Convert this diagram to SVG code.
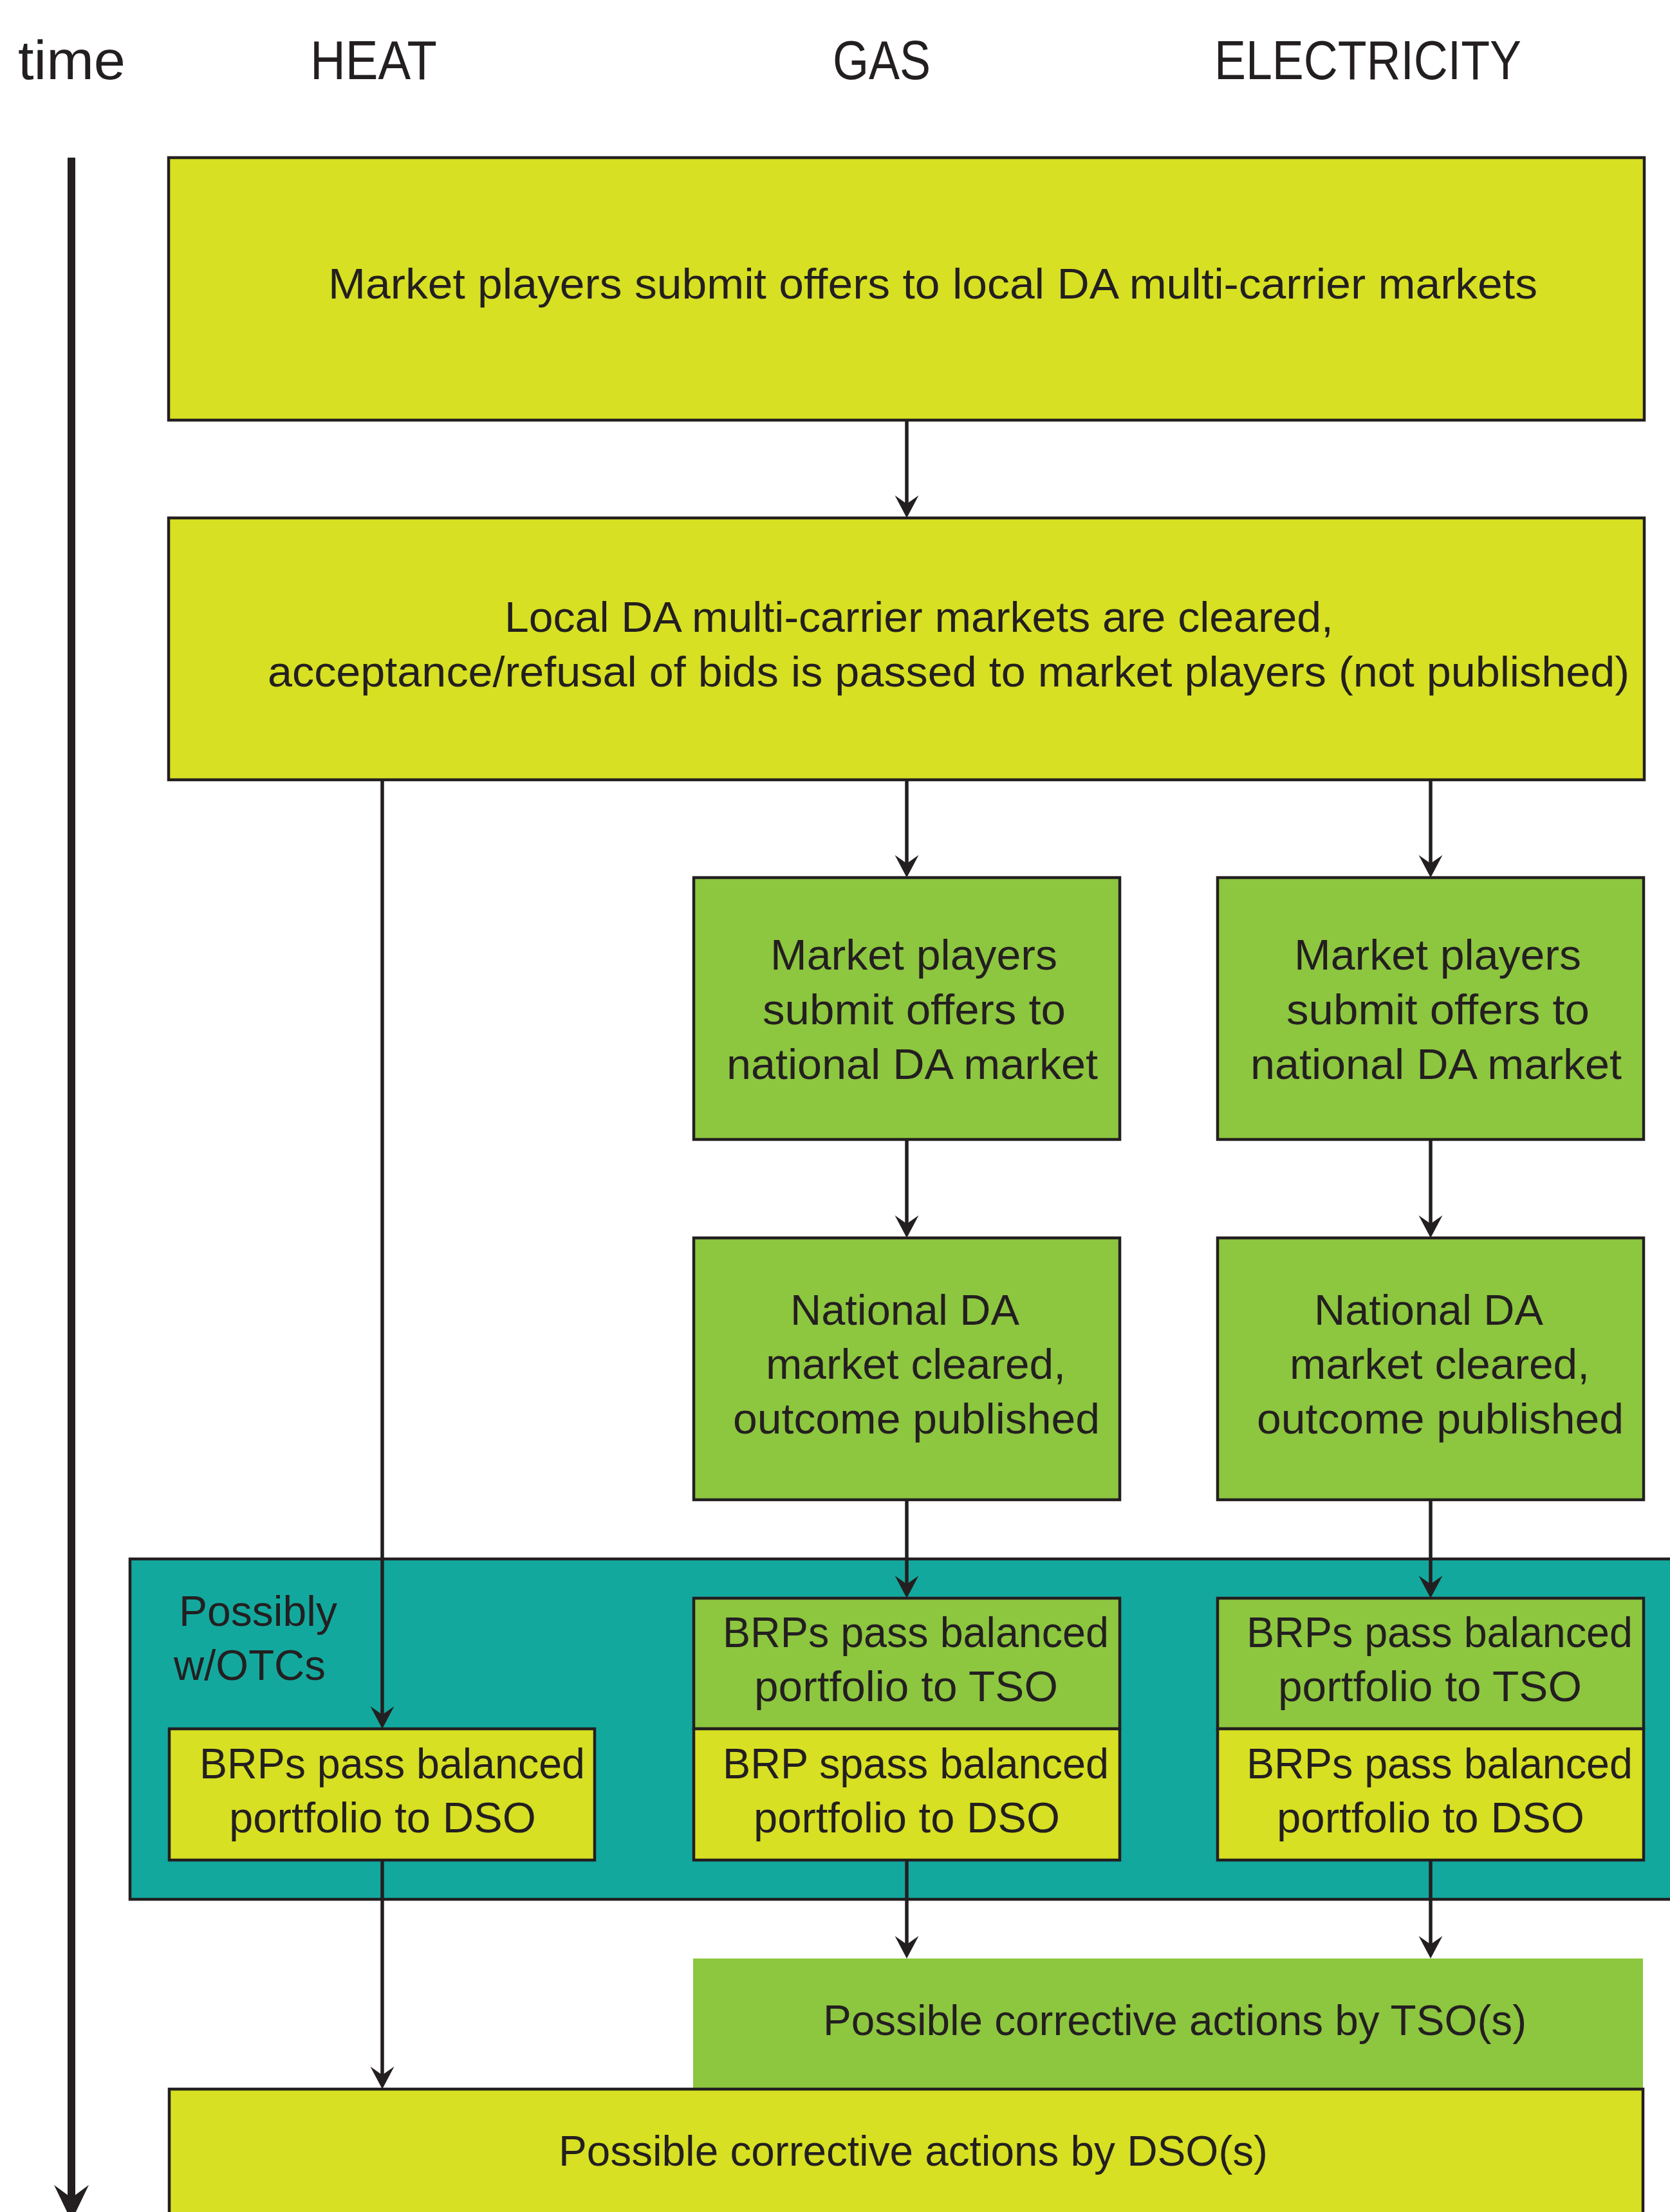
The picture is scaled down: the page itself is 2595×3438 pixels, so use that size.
<svg xmlns="http://www.w3.org/2000/svg" width="2595" height="3438" viewBox="0 0 2595 3438">
<style>
  text { font-family: "Liberation Sans", Arial, sans-serif; fill: #231F20; }
  .hdr { font-size: 86px; }
  .t { font-size: 66px; }
  .box { stroke: #231F20; stroke-width: 4.5; }
  .yel { fill: #D7E022; }
  .grn { fill: #8DC63F; }
  .teal { fill: #13A89E; }
  .con { stroke: #231F20; stroke-width: 5.5; fill: none; }
</style>
<defs>
  <marker id="arr" markerUnits="userSpaceOnUse" viewBox="-40 -22 44 44" markerWidth="44" markerHeight="44" refX="-22" refY="0" orient="auto">
    <path d="M0,0 L-35,-18.5 L-22,0 L-35,18.5 Z" fill="#231F20"/>
  </marker>
  <marker id="arrBig" markerUnits="userSpaceOnUse" viewBox="-62 -30 66 60" markerWidth="66" markerHeight="60" refX="-36" refY="0" orient="auto">
    <path d="M0,0 L-56,-27 L-36,0 L-56,27 Z" fill="#231F20"/>
  </marker>
</defs>
<rect width="2595" height="3438" fill="#FFFFFF"/>

<g id="headers">
  <text class="hdr" x="28" y="123" textLength="167" lengthAdjust="spacingAndGlyphs">time</text>
  <text class="hdr" x="482" y="123" textLength="197" lengthAdjust="spacingAndGlyphs">HEAT</text>
  <text class="hdr" x="1294" y="123" textLength="152" lengthAdjust="spacingAndGlyphs">GAS</text>
  <text class="hdr" x="1887" y="123" textLength="477" lengthAdjust="spacingAndGlyphs">ELECTRICITY</text>
</g>

<g id="timeline">
  <line x1="111" y1="245" x2="111" y2="3416" stroke="#231F20" stroke-width="12" marker-end="url(#arrBig)"/>
</g>

<g id="container-otc">
  <rect class="teal" x="202" y="2423" width="2500" height="529" stroke="#231F20" stroke-width="4.5"/>
  <text class="t" x="278" y="2527" textLength="246" lengthAdjust="spacingAndGlyphs">Possibly</text>
  <text class="t" x="270" y="2611" textLength="236" lengthAdjust="spacingAndGlyphs">w/OTCs</text>
</g>

<g id="local-offers">
  <rect class="box yel" x="262" y="245" width="2293" height="408"/>
  <text class="t" x="510" y="464" textLength="1879" lengthAdjust="spacingAndGlyphs">Market players submit offers to local DA multi-carrier markets</text>
</g>

<g id="local-cleared">
  <rect class="box yel" x="262" y="805" width="2293" height="407"/>
  <text class="t" x="784" y="982" textLength="1288" lengthAdjust="spacingAndGlyphs">Local DA multi-carrier markets are cleared,</text>
  <text class="t" x="416" y="1067" textLength="2116" lengthAdjust="spacingAndGlyphs">acceptance/refusal of bids is passed to market players (not published)</text>
</g>

<g id="gas-national-offers">
  <rect class="box grn" x="1078" y="1364" width="662" height="407"/>
  <text class="t" x="1197" y="1507" textLength="446" lengthAdjust="spacingAndGlyphs">Market players</text>
  <text class="t" x="1185" y="1592" textLength="471" lengthAdjust="spacingAndGlyphs">submit offers to</text>
  <text class="t" x="1129" y="1677" textLength="577" lengthAdjust="spacingAndGlyphs">national DA market</text>
</g>

<g id="elec-national-offers">
  <rect class="box grn" x="1892" y="1364" width="662" height="407"/>
  <text class="t" x="2011" y="1507" textLength="446" lengthAdjust="spacingAndGlyphs">Market players</text>
  <text class="t" x="1999" y="1592" textLength="471" lengthAdjust="spacingAndGlyphs">submit offers to</text>
  <text class="t" x="1943" y="1677" textLength="577" lengthAdjust="spacingAndGlyphs">national DA market</text>
</g>

<g id="gas-national-cleared">
  <rect class="box grn" x="1078" y="1924" width="662" height="407"/>
  <text class="t" x="1228" y="2059" textLength="356" lengthAdjust="spacingAndGlyphs">National DA</text>
  <text class="t" x="1190" y="2143" textLength="466" lengthAdjust="spacingAndGlyphs">market cleared,</text>
  <text class="t" x="1139" y="2228" textLength="570" lengthAdjust="spacingAndGlyphs">outcome published</text>
</g>

<g id="elec-national-cleared">
  <rect class="box grn" x="1892" y="1924" width="662" height="407"/>
  <text class="t" x="2042" y="2059" textLength="356" lengthAdjust="spacingAndGlyphs">National DA</text>
  <text class="t" x="2004" y="2143" textLength="466" lengthAdjust="spacingAndGlyphs">market cleared,</text>
  <text class="t" x="1953" y="2228" textLength="570" lengthAdjust="spacingAndGlyphs">outcome published</text>
</g>

<g id="heat-brp-dso">
  <rect class="box yel" x="263" y="2687" width="661" height="204"/>
  <text class="t" x="310" y="2764" textLength="599" lengthAdjust="spacingAndGlyphs">BRPs pass balanced</text>
  <text class="t" x="356" y="2848" textLength="477" lengthAdjust="spacingAndGlyphs">portfolio to DSO</text>
</g>

<g id="gas-brp-tso">
  <rect class="box grn" x="1078" y="2484" width="662" height="203"/>
  <text class="t" x="1123" y="2560" textLength="600" lengthAdjust="spacingAndGlyphs">BRPs pass balanced</text>
  <text class="t" x="1172" y="2644" textLength="472" lengthAdjust="spacingAndGlyphs">portfolio to TSO</text>
</g>

<g id="gas-brp-dso">
  <rect class="box yel" x="1078" y="2687" width="662" height="204"/>
  <text class="t" x="1123" y="2764" textLength="600" lengthAdjust="spacingAndGlyphs">BRP spass balanced</text>
  <text class="t" x="1171" y="2848" textLength="476" lengthAdjust="spacingAndGlyphs">portfolio to DSO</text>
</g>

<g id="elec-brp-tso">
  <rect class="box grn" x="1892" y="2484" width="662" height="203"/>
  <text class="t" x="1937" y="2560" textLength="600" lengthAdjust="spacingAndGlyphs">BRPs pass balanced</text>
  <text class="t" x="1986" y="2644" textLength="472" lengthAdjust="spacingAndGlyphs">portfolio to TSO</text>
</g>

<g id="elec-brp-dso">
  <rect class="box yel" x="1892" y="2687" width="662" height="204"/>
  <text class="t" x="1937" y="2764" textLength="600" lengthAdjust="spacingAndGlyphs">BRPs pass balanced</text>
  <text class="t" x="1984" y="2848" textLength="478" lengthAdjust="spacingAndGlyphs">portfolio to DSO</text>
</g>

<g id="tso-corrective">
  <rect class="grn" x="1077" y="3044" width="1476" height="205"/>
  <text class="t" x="1279" y="3163" textLength="1093" lengthAdjust="spacingAndGlyphs">Possible corrective actions by TSO(s)</text>
</g>

<g id="dso-corrective">
  <rect class="box yel" x="263" y="3247" width="2290" height="260"/>
  <text class="t" x="868" y="3366" textLength="1102" lengthAdjust="spacingAndGlyphs">Possible corrective actions by DSO(s)</text>
</g>

<g id="connectors">
  <line class="con" x1="1409" y1="653" x2="1409" y2="783" marker-end="url(#arr)"/>
  <line class="con" x1="594" y1="1212" x2="594" y2="2665" marker-end="url(#arr)"/>
  <line class="con" x1="1409" y1="1212" x2="1409" y2="1342" marker-end="url(#arr)"/>
  <line class="con" x1="2223" y1="1212" x2="2223" y2="1342" marker-end="url(#arr)"/>
  <line class="con" x1="1409" y1="1771" x2="1409" y2="1902" marker-end="url(#arr)"/>
  <line class="con" x1="2223" y1="1771" x2="2223" y2="1902" marker-end="url(#arr)"/>
  <line class="con" x1="1409" y1="2331" x2="1409" y2="2462" marker-end="url(#arr)"/>
  <line class="con" x1="2223" y1="2331" x2="2223" y2="2462" marker-end="url(#arr)"/>
  <line class="con" x1="1409" y1="2891" x2="1409" y2="3022" marker-end="url(#arr)"/>
  <line class="con" x1="2223" y1="2891" x2="2223" y2="3022" marker-end="url(#arr)"/>
  <line class="con" x1="594" y1="2891" x2="594" y2="3225" marker-end="url(#arr)"/>
</g>
</svg>
